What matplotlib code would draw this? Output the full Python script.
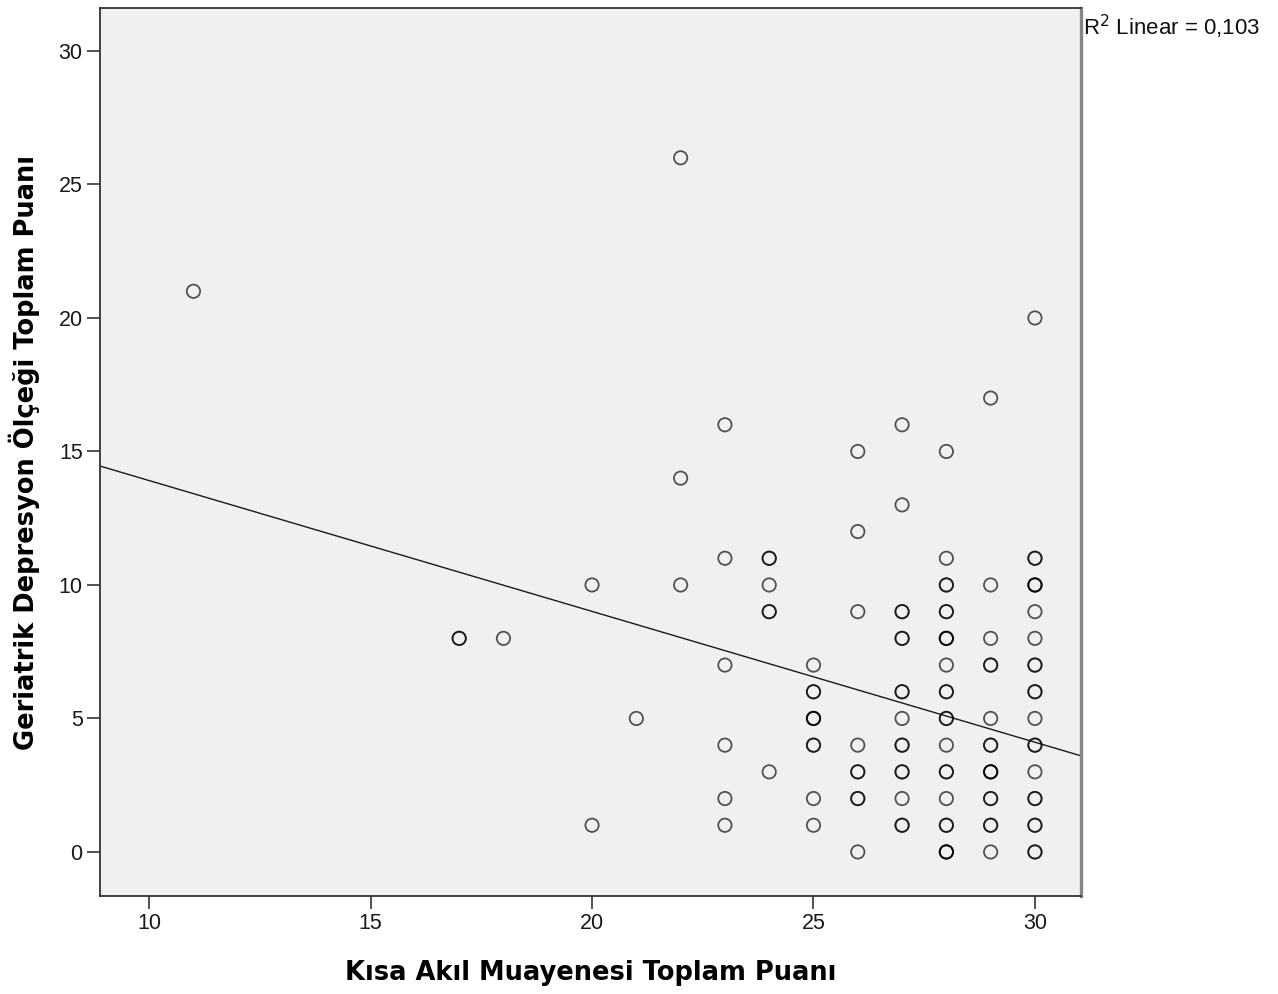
import numpy as np
import matplotlib
matplotlib.use("Agg")
import matplotlib.pyplot as plt

# Kısa Akıl Muayenesi (x), Geriatrik Depresyon (y), number of overlapping cases
kam = [11, 17, 18, 20, 20, 21, 22, 22, 22,
       23, 23, 23, 23, 23, 23,
       24, 24, 24, 24,
       25, 25, 25, 25, 25, 25,
       26, 26, 26, 26, 26, 26, 26,
       27, 27, 27, 27, 27, 27, 27, 27, 27, 27,
       28, 28, 28, 28, 28, 28, 28, 28, 28, 28, 28, 28, 28,
       29, 29, 29, 29, 29, 29, 29, 29, 29, 29,
       30, 30, 30, 30, 30, 30, 30, 30, 30, 30, 30, 30, 30]
gds = [21, 8, 8, 10, 1, 5, 26, 14, 10,
       16, 11, 7, 4, 2, 1,
       11, 10, 9, 3,
       7, 6, 5, 4, 2, 1,
       15, 12, 9, 4, 3, 2, 0,
       16, 13, 9, 8, 6, 5, 4, 3, 2, 1,
       15, 11, 10, 9, 8, 7, 6, 5, 4, 3, 2, 1, 0,
       17, 10, 8, 7, 5, 4, 3, 2, 1, 0,
       20, 11, 10, 9, 8, 7, 6, 5, 4, 3, 2, 1, 0]
n_cases = [1, 2, 1, 1, 1, 1, 1, 1, 1,
           1, 1, 1, 1, 1, 1,
           2, 1, 2, 1,
           1, 2, 3, 2, 1, 1,
           1, 1, 1, 1, 2, 2, 1,
           1, 1, 2, 2, 2, 1, 2, 2, 1, 2,
           1, 1, 2, 2, 3, 1, 2, 2, 1, 2, 1, 2, 3,
           1, 1, 1, 2, 1, 2, 3, 2, 2, 1,
           1, 2, 3, 1, 1, 2, 2, 1, 2, 1, 2, 2, 2]

fit_intercept = 18.81
fit_slope = -0.49
r2_text = "R$^2$ Linear = 0,103"

x = np.repeat(kam, n_cases)
y = np.repeat(gds, n_cases)

fig = plt.figure(figsize=(12.78, 9.94), dpi=100)
ax = fig.add_axes([100 / 1278, 1 - 896 / 994, 981 / 1278, 888 / 994])
ax.set_facecolor("#f0f0f0")

ax.set_xlim(8.89, 31.04)
ax.set_ylim(-1.65, 31.61)

ax.scatter(x, y, s=92, facecolors="none", edgecolors=(0, 0, 0, 0.66),
           linewidths=1.3, zorder=3)

xl = np.array(ax.get_xlim())
ax.plot(xl, fit_intercept + fit_slope * xl, color="#1a1a1a", lw=1.0, zorder=2)

ax.set_xticks([10, 15, 20, 25, 30])
ax.set_yticks([0, 5, 10, 15, 20, 25, 30])
ax.tick_params(direction="out", length=9.5, width=1.1, color="#222222",
               pad=3, labelsize=15.5, labelcolor="#1a1a1a")
for lab in ax.get_xticklabels() + ax.get_yticklabels():
    lab.set_family("Liberation Sans")

for side in ["left", "top", "bottom"]:
    ax.spines[side].set_color("#333333")
    ax.spines[side].set_linewidth(1.3)
ax.spines["right"].set_color("#858585")
ax.spines["right"].set_linewidth(2.4)

ax.set_xlabel("Kısa Akıl Muayenesi Toplam Puanı", fontsize=18.5, fontweight="bold",
              family="DejaVu Sans")
ax.set_ylabel("Geriatrik Depresyon Ölçeği Toplam Puanı", fontsize=18.5,
              fontweight="bold", family="DejaVu Sans")
ax.xaxis.set_label_coords(0.5, (896 - 960) / 888)
ax.yaxis.set_label_coords((40 - 100) / 981, 0.5)

fig.text(1083 / 1278, 1 - 27 / 994, r2_text, fontsize=16, family="Liberation Sans",
         va="center", ha="left", color="#111111")

fig.savefig("out.png", dpi=100, facecolor="white")
